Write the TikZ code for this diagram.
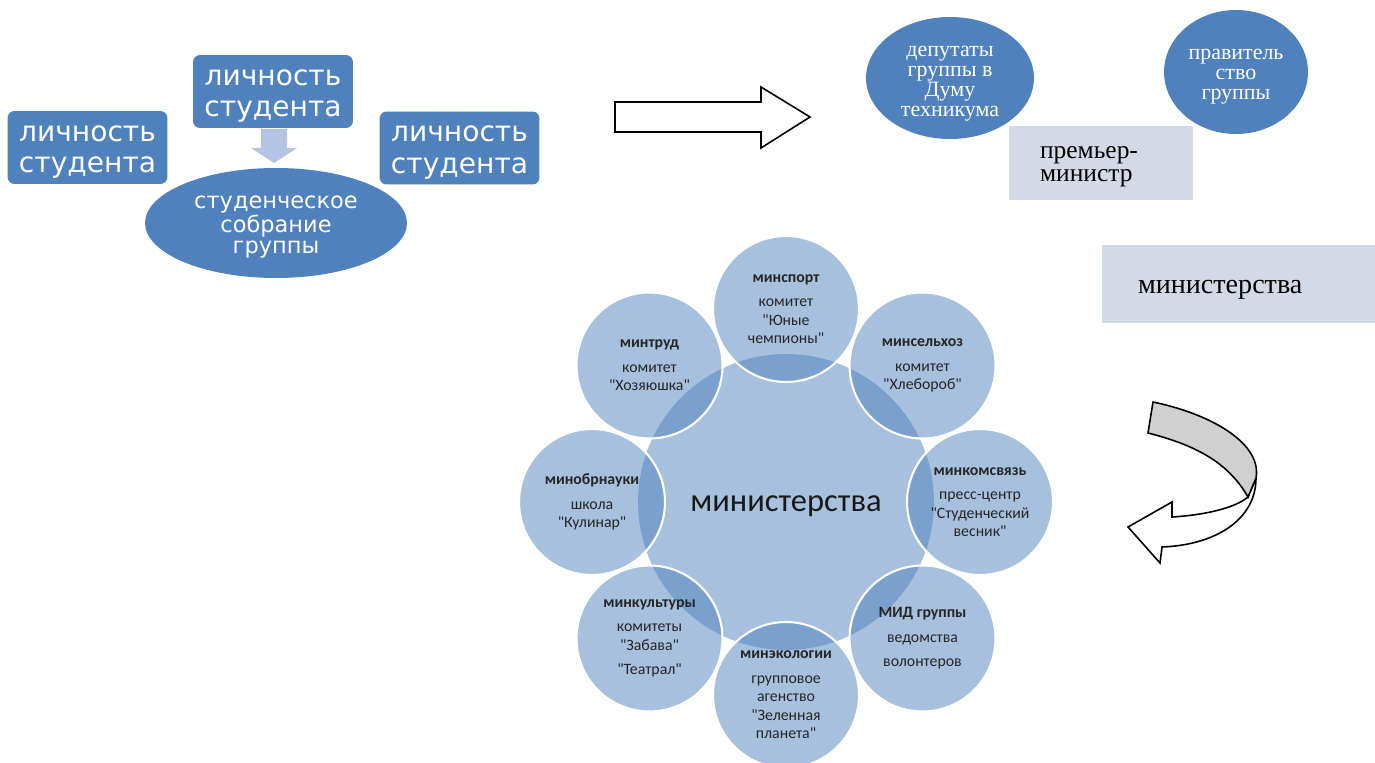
\documentclass[tikz,border=0pt]{standalone}
\usepackage{fontspec}
\setmainfont{Liberation Serif}
\newfontfamily\verd{DejaVu Sans}
\newfontfamily\calib{Carlito}
\usetikzlibrary{shapes.geometric}
\definecolor{mainc}{HTML}{4F81BD}
\definecolor{softc}{HTML}{B3C5E2}
\definecolor{panelc}{HTML}{D3DAE6}
\definecolor{bandc}{HTML}{D0D0D0}
\definecolor{inkc}{HTML}{262626}
\newcommand\lift[1]{\rule{0pt}{#1}}
\tikzset{
  lbox/.style={rounded corners=4pt,fill=mainc,text=white,align=center,minimum width=3.2cm,minimum height=1.46cm,inner sep=0pt,font=\verd\fontsize{16}{18}\selectfont},
  oval/.style={ellipse,fill=mainc,text=white,align=center,inner sep=0pt},
  panel/.style={fill=panelc,align=left,inner ysep=0pt,font=\fontsize{14.5}{13.5}\selectfont},
  mcirc/.style={circle,fill=mainc,fill opacity=0.5,text opacity=1,draw=white,line width=1.2pt,minimum size=2.92cm,inner sep=0pt,align=center,text=inkc,font=\calib\fontsize{9}{10.5}\selectfont},
  blk/.style={draw=black,line width=0.9pt,line join=miter}
}
\begin{document}
\begin{tikzpicture}[x=0.02cm,y=-0.02cm]
\useasboundingbox (0,0) rectangle (1375,763);
\node[lbox] (ls1) at (273,91.5) {\lift{14pt}личность\\студента};
\node[lbox] (ls2) at (87.5,147.5) {\lift{14pt}личность\\студента};
\node[lbox] (ls3) at (459.5,148) {\lift{14pt}личность\\студента};
\fill[softc] (261,129)--(287,129)--(287,148)--(297,148)--(274,163)--(251,148)--(261,148)--cycle;
\node[oval,minimum width=5.24cm,minimum height=2.2cm,font=\verd\fontsize{12.8}{12}\selectfont] (sobr) at (276,223) {\lift{12pt}студенческое\\собрание\\группы};

\draw[blk,fill=white] (615,102)--(761,102)--(761,87)--(810,117)--(761,148)--(761,132)--(615,132)--cycle;

\node[oval,minimum width=3.36cm,minimum height=2.24cm,font=\fontsize{12.5}{11.3}\selectfont] (dep) at (950,78) {\lift{12.5pt}депутаты\\группы в\\Думу\\техникума};
\node[oval,minimum width=2.88cm,minimum height=2.48cm,font=\fontsize{12.5}{11.3}\selectfont] (prav) at (1236,72) {\lift{11.5pt}правитель\\ство\\группы};
\node[panel,minimum width=3.68cm,minimum height=1.5cm,text width=2.44cm,inner xsep=0.62cm] (prem) at (1101,163) {\lift{11pt}премьер-\\министр};
\node[panel,minimum width=5.46cm,minimum height=1.56cm,text width=4.02cm,inner xsep=0.72cm,font=\fontsize{16}{12}\selectfont] (mins) at (1238.5,284) {\lift{14pt}министерства};

\draw[blk,fill=white] (1256,478) .. controls (1256,520) and (1215,545) .. (1162,547) -- (1160,563) -- (1128,527) -- (1172,502) -- (1172,517) .. controls (1205,515) and (1235,508) .. (1248,497) -- cycle;
\draw[blk,fill=bandc] (1153,402) .. controls (1215,415) and (1262,445) .. (1256,478) -- (1248,497) .. controls (1228,462) and (1195,445) .. (1148,433) -- cycle;

\node[circle,fill=mainc,fill opacity=0.5,text opacity=1,minimum size=5.92cm,inner sep=0pt,text=black!90,font=\calib\fontsize{18.5}{20}\selectfont] (hub) at (786,502) {\lift{14pt}министерства};
\node[mcirc] (sport) at (786,309) {{\bfseries минспорт}\\[3.5pt]комитет\\"Юные\\чемпионы"};
\node[mcirc] (selh) at (922.5,365.5) {{\bfseries минсельхоз}\\[3.5pt]комитет\\"Хлебороб"};
\node[mcirc] (svyaz) at (980,502) {{\bfseries минкомсвязь}\\[3.5pt]пресс-центр\\"Студенческий\\весник"};
\node[mcirc] (mid) at (922.5,638.5) {{\bfseries МИД группы}\\[3.5pt]ведомства\\[3.5pt]волонтеров};
\node[mcirc] (eco) at (786,695) {{\bfseries минэкологии}\\[3.5pt]групповое\\агенство\\"Зеленная\\планета"};
\node[mcirc] (kult) at (649.5,638.5) {{\bfseries минкультуры}\\[3.5pt]комитеты\\"Забава"\\[3.5pt]"Театрал"};
\node[mcirc] (obr) at (592,502) {{\bfseries минобрнауки}\\[3.5pt]школа\\"Кулинар"};
\node[mcirc] (trud) at (649.5,365.5) {{\bfseries минтруд}\\[3.5pt]комитет\\"Хозяюшка"};
\end{tikzpicture}
\end{document}
